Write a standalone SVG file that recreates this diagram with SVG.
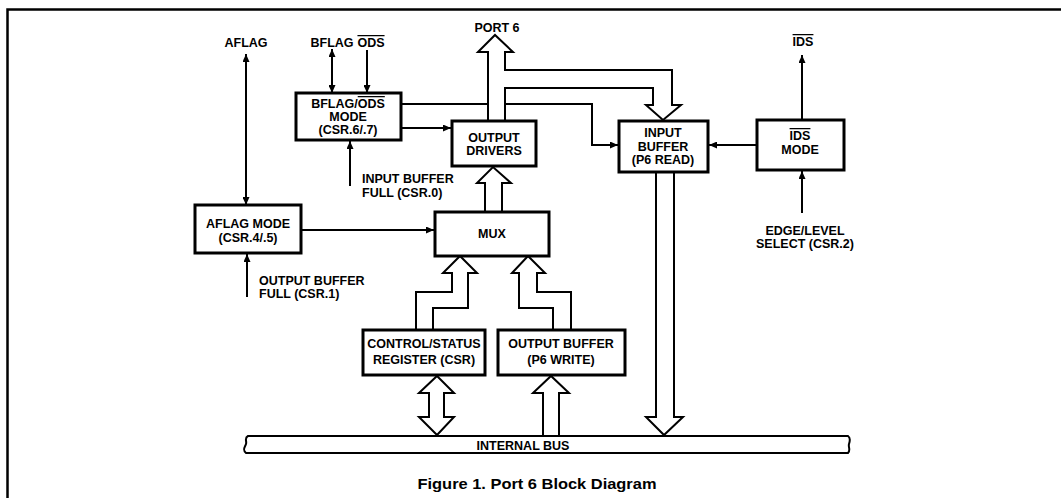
<svg xmlns="http://www.w3.org/2000/svg" width="1061" height="498" viewBox="0 0 1061 498">
<style>
text{font-family:"Liberation Sans",Arial,sans-serif;font-weight:bold;font-size:12.5px;fill:#000}
.c{text-anchor:middle}
.box{fill:#fff;stroke:#000;stroke-width:3}
.ln{fill:none;stroke:#000;stroke-width:2}
.wide{fill:#fff;stroke:#000;stroke-width:2;stroke-linejoin:miter}
.ol{text-decoration:overline}
</style>
<defs>
<marker id="ah" viewBox="0 0 8 7" refX="8" refY="3.5" markerWidth="8" markerHeight="7" markerUnits="userSpaceOnUse" orient="auto-start-reverse">
<path d="M0,0 L8,3.5 L0,7 z" fill="#000"/>
</marker>
</defs>
<rect width="1061" height="498" fill="#fff"/>
<!-- frame -->
<path d="M7.5,498 L7.5,9.5 L1061,9.5" fill="none" stroke="#000" stroke-width="2.5"/>

<g id="connectors">
<line class="ln" x1="246" y1="54" x2="246" y2="205" marker-start="url(#ah)" marker-end="url(#ah)"/>
<line class="ln" x1="332" y1="49" x2="332" y2="93" marker-start="url(#ah)" marker-end="url(#ah)"/>
<line class="ln" x1="367" y1="50" x2="367" y2="93" marker-end="url(#ah)"/>
<line class="ln" x1="350" y1="186" x2="350" y2="141" marker-end="url(#ah)"/>
<line class="ln" x1="401" y1="128" x2="451" y2="128" marker-end="url(#ah)"/>
<polyline class="ln" points="401,104 592,104 592,145 618,145" marker-end="url(#ah)"/>
<line class="ln" x1="757" y1="145" x2="709" y2="145" marker-end="url(#ah)"/>
<line class="ln" x1="802" y1="120" x2="802" y2="55" marker-end="url(#ah)"/>
<line class="ln" x1="802" y1="213" x2="802" y2="171" marker-end="url(#ah)"/>
<line class="ln" x1="301" y1="230" x2="434" y2="230" marker-end="url(#ah)"/>
<line class="ln" x1="247" y1="297" x2="247" y2="254" marker-end="url(#ah)"/>
<!-- wide bus arrows -->
<path class="wide" d="M488,121 L488,52 L478,52 L495,35 L513,52 L505,52 L505,70 L672,70 L672,105 L681,105 L663,120 L646,105 L653,105 L653,88 L505,88 L505,121"/>
<path class="wide" d="M485,212 L485,183 L477,183 L493,167 L511,183 L502,183 L502,212"/>
<path class="wide" d="M416,330 L416,292 L452,292 L452,273 L443,273 L460,256 L477,273 L468,273 L468,308 L433,308 L433,330"/>
<path class="wide" d="M553,330 L553,308 L519,308 L519,273 L512,273 L528,256 L545,273 L537,273 L537,292 L571,292 L571,330"/>
<path class="wide" d="M656,172 L656,417 L646,417 L664,435 L683,417 L674,417 L674,172"/>
<path class="wide" d="M437,376 L454,393 L444,393 L444,417 L454,417 L437,435 L419,417 L429,417 L429,393 L419,393 Z"/>
<path class="wide" d="M543,435 L543,393 L533,393 L551,376 L569,393 L559,393 L559,435"/>
</g>

<g id="internal-bus">
<path d="M848,436 L248,436 C244,438 247,441 246,444 C245,447 242,450 246,453 L848,453 C851,450 848,447 849,444 C850,441 851,438 848,436 Z" fill="#fff" stroke="#000" stroke-width="2"/>
<text class="c" x="523" y="450">INTERNAL BUS</text>
</g>

<g id="aflag-label"><text class="c" x="246" y="47">AFLAG</text></g>
<g id="bflag-label"><text class="c" x="332" y="47">BFLAG</text><text class="c ol" x="371" y="47">ODS</text></g>
<g id="port6-label"><text class="c" x="497" y="32">PORT 6</text></g>
<g id="ids-label"><text class="c ol" x="803" y="46">IDS</text></g>

<g id="bflag-ods-mode">
<rect class="box" x="296" y="93" width="105" height="47"/>
<text class="c" x="348" y="108">BFLAG/<tspan class="ol">ODS</tspan></text>
<text class="c" x="348" y="121">MODE</text>
<text class="c" x="348" y="134">(CSR.6/.7)</text>
</g>
<g id="input-buffer-full-label">
<text x="362" y="183">INPUT BUFFER</text>
<text x="362" y="197">FULL (CSR.0)</text>
</g>

<g id="output-drivers">
<rect class="box" x="452" y="121" width="84" height="45"/>
<text class="c" x="494" y="142">OUTPUT</text>
<text class="c" x="494" y="155">DRIVERS</text>
</g>

<g id="input-buffer">
<rect class="box" x="619" y="121" width="89" height="51"/>
<text class="c" x="663" y="137">INPUT</text>
<text class="c" x="663" y="151">BUFFER</text>
<text class="c" x="663" y="164">(P6 READ)</text>
</g>

<g id="ids-mode">
<rect class="box" x="757" y="120" width="87" height="50"/>
<text class="c ol" x="800" y="140">IDS</text>
<text class="c" x="800" y="154">MODE</text>
</g>
<g id="edge-level-label">
<text class="c" x="805" y="235">EDGE/LEVEL</text>
<text class="c" x="805" y="248">SELECT (CSR.2)</text>
</g>

<g id="aflag-mode">
<rect class="box" x="195" y="205" width="106" height="48"/>
<text class="c" x="248" y="228">AFLAG MODE</text>
<text class="c" x="248" y="242">(CSR.4/.5)</text>
</g>
<g id="output-buffer-full-label">
<text x="259" y="285">OUTPUT BUFFER</text>
<text x="259" y="298">FULL (CSR.1)</text>
</g>

<g id="mux">
<rect class="box" x="435" y="212" width="114" height="44"/>
<text class="c" x="492" y="238">MUX</text>
</g>

<g id="csr">
<rect class="box" x="363" y="330" width="122" height="45"/>
<text class="c" x="424" y="348">CONTROL/STATUS</text>
<text class="c" x="424" y="364">REGISTER (CSR)</text>
</g>

<g id="output-buffer">
<rect class="box" x="498" y="330" width="127" height="45"/>
<text class="c" x="561" y="348">OUTPUT BUFFER</text>
<text class="c" x="561" y="364">(P6 WRITE)</text>
</g>

<g id="caption">
<text class="c" x="537" y="489" style="font-size:15px" textLength="239" lengthAdjust="spacingAndGlyphs">Figure 1. Port 6 Block Diagram</text>
</g>
</svg>
